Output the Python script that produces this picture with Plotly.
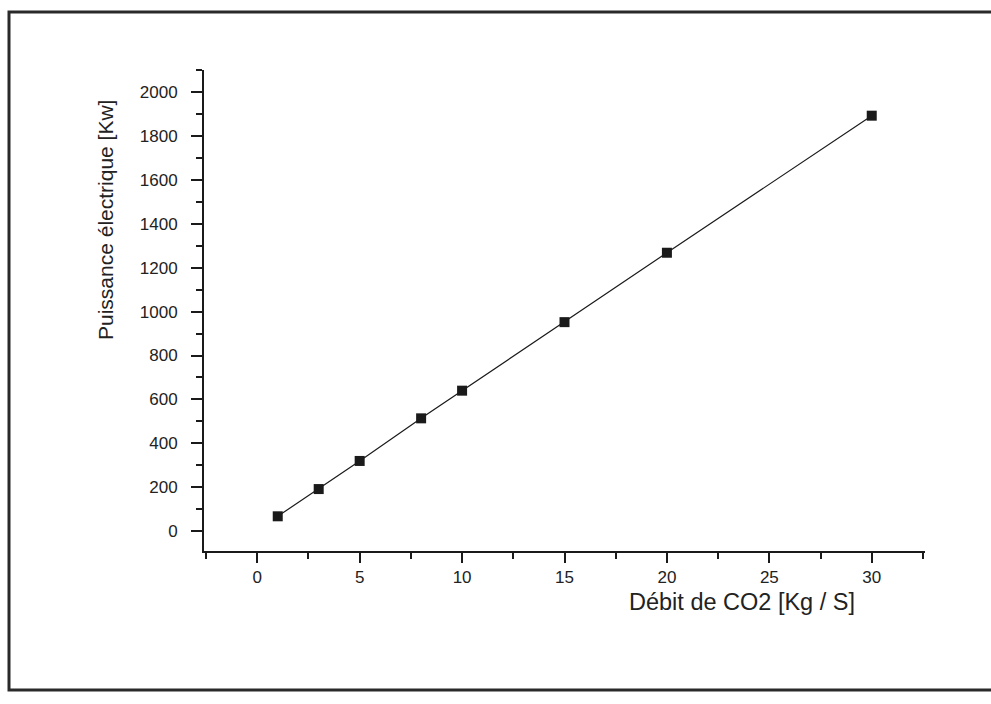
import plotly.graph_objects as go

# Mass flow of CO2 (kg/s) and the electrical power delivered (kW)
debit_co2 = [1, 3, 5, 8, 10, 15, 20, 30]
puissance = [68, 192, 320, 514, 640, 952, 1268, 1892]

x_ticks = [0, 5, 10, 15, 20, 25, 30]
y_ticks = [0, 200, 400, 600, 800, 1000, 1200, 1400, 1600, 1800, 2000]

W, H = 991, 704
L, R, T, B = 204, 66, 70, 153
pw, ph = W - L - R, H - T - B

def px_x(p):
    return (p - L) / pw

def px_y(p):
    return (H - B - p) / ph

font_family = "Liberation Sans, Arial, sans-serif"
ink = "#1a1a1a"

fig = go.Figure()
fig.add_trace(go.Scatter(
    x=debit_co2, y=puissance,
    mode="lines+markers",
    line=dict(color=ink, width=1.2),
    marker=dict(symbol="square", size=10, color=ink),
    showlegend=False,
    cliponaxis=False,
))

fig.update_xaxes(
    range=[-2.6, 32.6],
    tickvals=x_ticks, ticktext=[str(v) for v in x_ticks],
    showgrid=False, zeroline=False,
    showline=True, linecolor=ink, linewidth=2,
    ticks="outside", ticklen=10, tickwidth=1.5, tickcolor=ink,
    minor=dict(tickvals=[-2.5, 2.5, 7.5, 12.5, 17.5, 22.5, 27.5, 32.5],
               ticks="outside", ticklen=6, tickwidth=1.5, tickcolor=ink),
    tickfont=dict(family=font_family, size=17, color="#222"),
    ticklabelstandoff=0,
)
fig.update_yaxes(
    range=[-90, 2100],
    tickvals=y_ticks, ticktext=[str(v) for v in y_ticks],
    showgrid=False, zeroline=False,
    showline=True, linecolor=ink, linewidth=2,
    ticks="outside", ticklen=11, tickwidth=1.5, tickcolor=ink,
    minor=dict(dtick=100, tick0=0, ticks="outside", ticklen=6,
               tickwidth=1.5, tickcolor=ink),
    tickfont=dict(family=font_family, size=17, color="#222"),
    ticklabelstandoff=10,
)

# Axis titles
fig.add_annotation(
    text="Puissance électrique [Kw]", xref="paper", yref="paper",
    x=px_x(105), y=px_y(220), textangle=-90, showarrow=False,
    font=dict(family=font_family, size=21, color="#222"),
    xanchor="center", yanchor="middle",
)
fig.add_annotation(
    text="Débit de CO2 [Kg / S]", xref="paper", yref="paper",
    x=px_x(742), y=px_y(602), showarrow=False,
    font=dict(family=font_family, size=23.5, color="#222"),
    xanchor="center", yanchor="middle",
)

# Page frame around the figure
fig.add_shape(
    type="rect", xref="paper", yref="paper",
    x0=px_x(9), x1=px_x(1000), y0=px_y(690), y1=px_y(12),
    line=dict(color="#2a2a2a", width=3), fillcolor="rgba(0,0,0,0)",
    layer="below",
)

fig.update_layout(
    width=W, height=H,
    margin=dict(l=L, r=R, t=T, b=B),
    paper_bgcolor="white", plot_bgcolor="white",
)

fig.write_html("out.html")
